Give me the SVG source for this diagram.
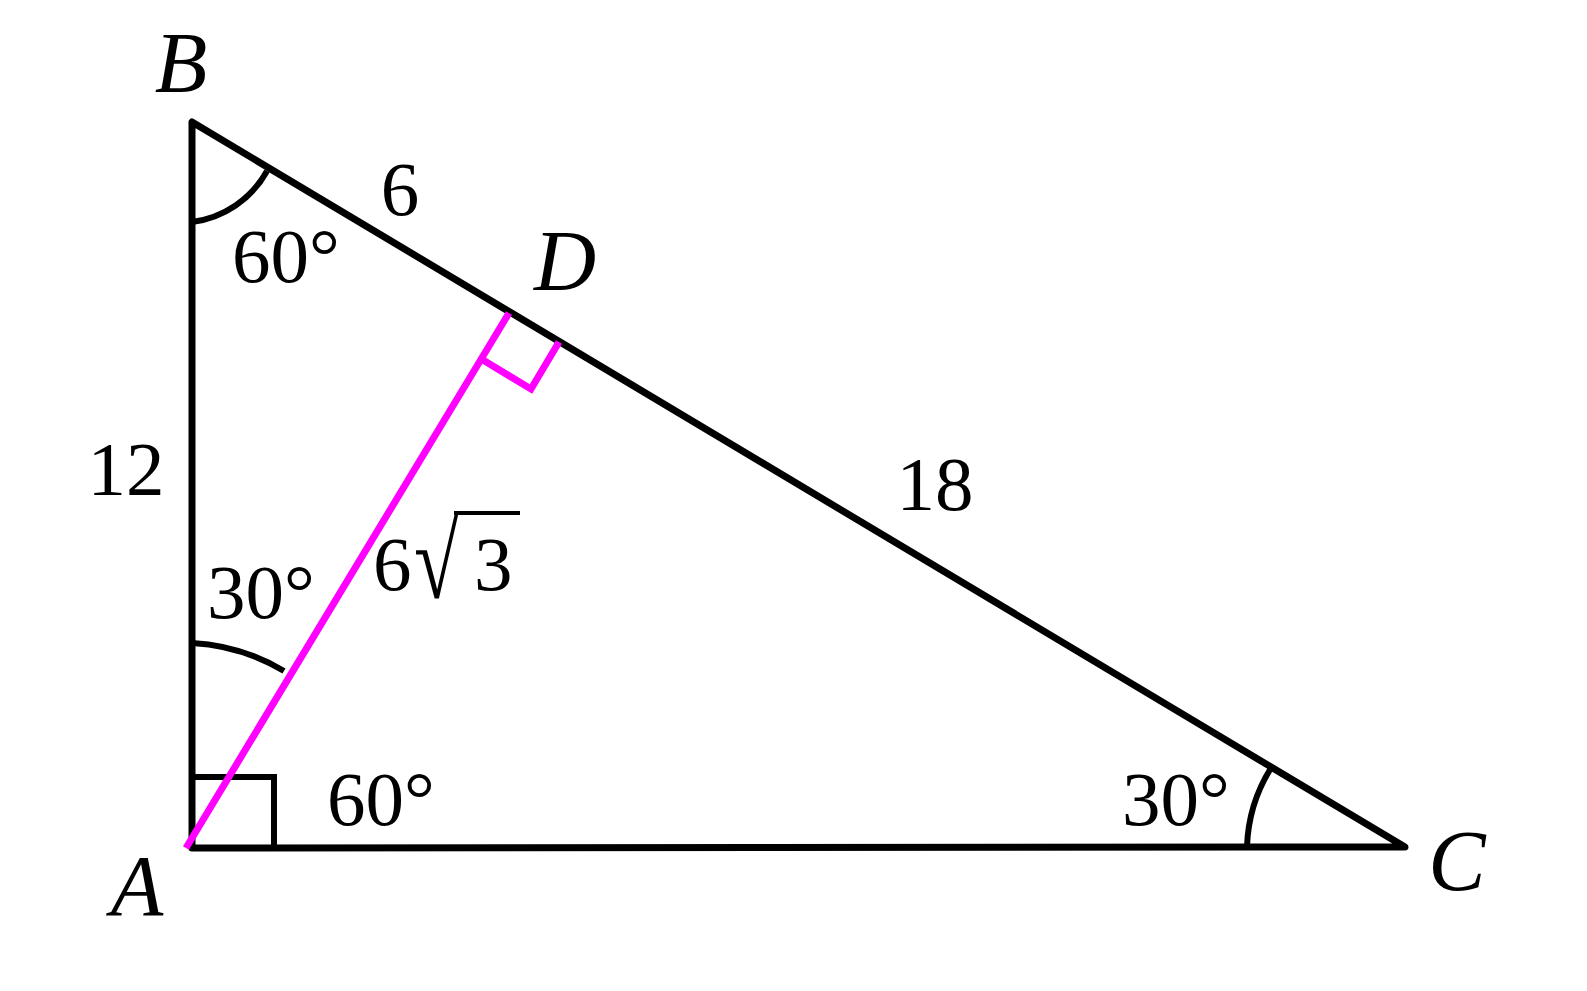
<svg xmlns="http://www.w3.org/2000/svg" width="1587" height="991" viewBox="0 0 1587 991">
<style>
.t{font-family:"Liberation Serif","Times New Roman",serif;font-size:77px;fill:#000}
.v{font-family:"Liberation Serif","Times New Roman",serif;font-style:italic;font-size:86px;fill:#000}
.ln{fill:none;stroke:#000;stroke-width:7;stroke-linejoin:round;stroke-linecap:round}
.thin{fill:none;stroke:#000;stroke-width:6}
.mg{fill:none;stroke:#ff00ff;stroke-width:7}
</style>
<rect width="1587" height="991" fill="#fff"/>
<g id="connectors">
  <path class="thin" d="M192,777 L274,777 L274,848"/>
  <path class="thin" d="M192,222 A100,100 0 0 0 267,171"/>
  <path class="thin" d="M192,643 A200,200 0 0 1 284,671"/>
  <path class="thin" d="M1247,847 A158,158 0 0 1 1271,768"/>
  <path class="ln" d="M192,122 L192,848 L1405,847 Z"/>
  <line class="mg" x1="509" y1="313" x2="186" y2="848"/>
  <path class="mg" d="M483,360 L531,389 L559,342"/>
</g>
<g id="B"><text class="v" x="181" y="92" text-anchor="middle">B</text></g>
<g id="A"><text class="v" x="137" y="915" text-anchor="middle">A</text></g>
<g id="C"><text class="v" x="1457" y="890" text-anchor="middle">C</text></g>
<g id="D"><text class="v" x="565" y="290" text-anchor="middle">D</text></g>
<g id="label-6"><text class="t" x="400" y="215" text-anchor="middle">6</text></g>
<g id="label-12"><text class="t" x="126" y="495" text-anchor="middle">12</text></g>
<g id="label-18"><text class="t" x="935" y="510" text-anchor="middle">18</text></g>
<g id="angle-B"><text class="t" x="232" y="282">60°</text></g>
<g id="angle-A1"><text class="t" x="207" y="618">30°</text></g>
<g id="angle-A2"><text class="t" x="327" y="825">60°</text></g>
<g id="angle-C"><text class="t" x="1122" y="825">30°</text></g>
<g id="label-AD">
  <text class="t" x="373" y="590">6</text>
  <text class="t" transform="translate(414,598) scale(1,1.33)" x="0" y="0" style="font-size:82px">√</text>
  <line x1="454" y1="513" x2="520" y2="513" stroke="#000" stroke-width="4"/>
  <text class="t" x="474" y="590">3</text>
</g>
</svg>
